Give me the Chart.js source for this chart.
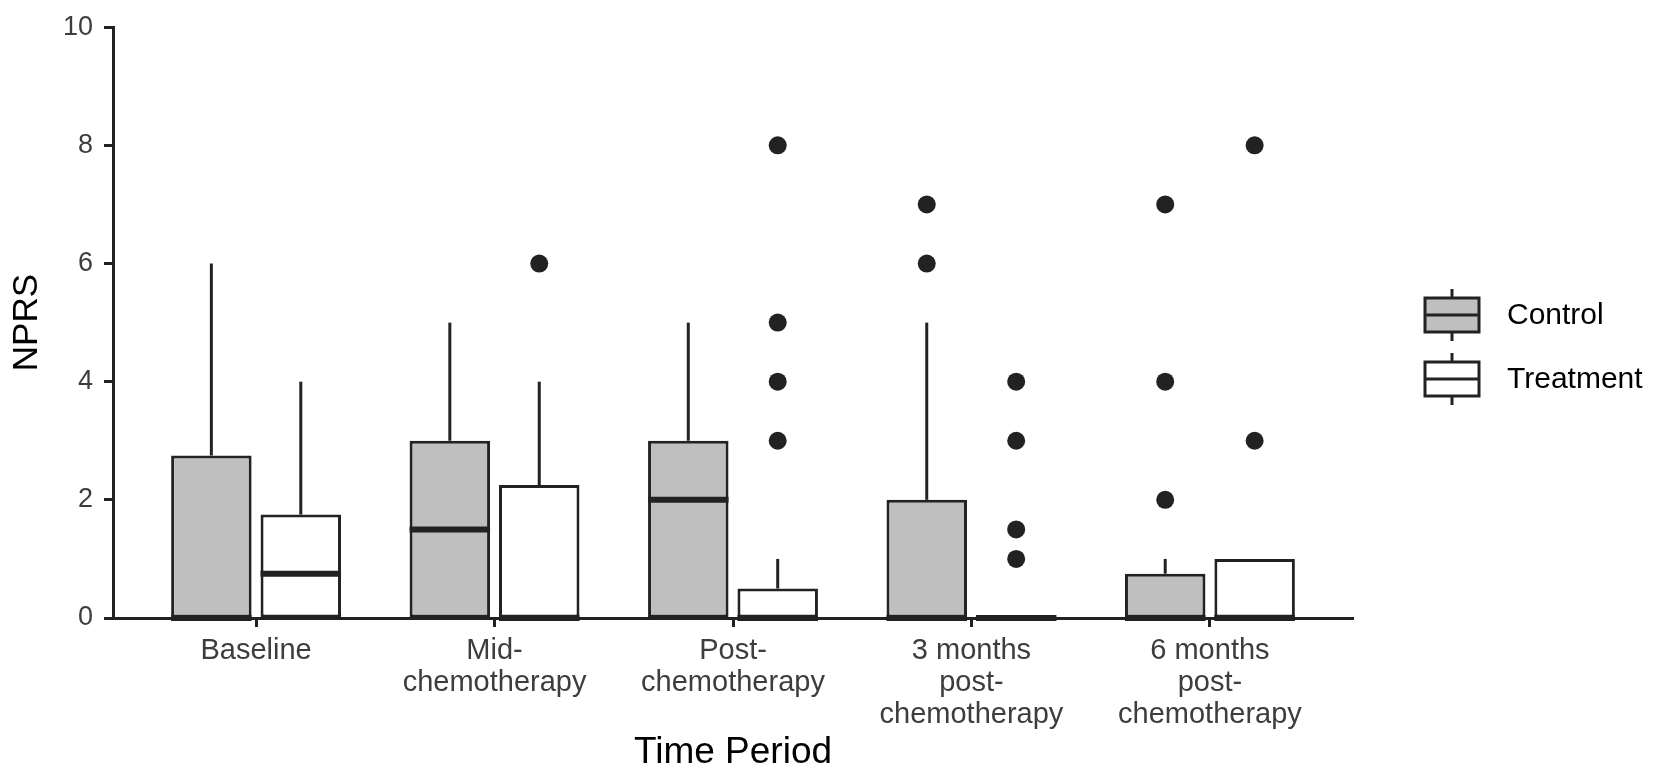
<!DOCTYPE html>
<html>
<head>
<meta charset="utf-8">
<title>NPRS by time period</title>
<script src="https://cdn.jsdelivr.net/npm/chart.js@4.4.1/dist/chart.umd.min.js"></script>
<style>
  html, body { margin: 0; padding: 0; background: #fff; }
  #wrap { width: 1659px; height: 778px; }
</style>
</head>
<body>
<div id="wrap"><canvas id="nprsChart"></canvas></div>
<script>
// categories (multi-line tick labels)
const periods = [
    ["Baseline"],
    ["Mid-", "chemotherapy"],
    ["Post-", "chemotherapy"],
    ["3 months", "post-", "chemotherapy"],
    ["6 months", "post-", "chemotherapy"]
];

// Control group box stats
const controlQ1 = [0, 0, 0, 0, 0];
const controlMedian = [0, 1.5, 2, 0, 0];
const controlQ3 = [2.75, 3, 3, 2, 0.75];
const controlMin = [0, 0, 0, 0, 0];
const controlMax = [6, 5, 5, 5, 1];
const controlOutliers = [[], [], [], [6, 7], [2, 4, 7]];

// Treatment group box stats
const treatmentQ1 = [0, 0, 0, 0, 0];
const treatmentMedian = [0.75, 0, 0, 0, 0];
const treatmentQ3 = [1.75, 2.25, 0.5, 0, 1];
const treatmentMin = [0, 0, 0, 0, 0];
const treatmentMax = [4, 4, 1, 0, 1];
const treatmentOutliers = [[], [6], [3, 4, 5, 8], [1, 1.5, 3, 4], [3, 8]];

const yTicks = [0, 2, 4, 6, 8, 10];

const INK = "#222222";
const dodge = 0.75 / 4; // centre of each box relative to the category, in category units

Chart.defaults.font.family = '"Liberation Sans", Arial, sans-serif';

function boxData(q1, q3) {
    return periods.map((p, i) => ({ x: i, y: [q1[i], q3[i]] }));
}

function outlierData(groups, shift) {
    return groups.flatMap((vals, i) => vals.map(v => ({ x: i + shift, y: v })));
}

// whiskers + medians, placed on the bars that Chart.js laid out
const boxExtras = {
    id: "boxExtras",
    afterDatasetsDraw(chart) {
        const ctx = chart.ctx;
        const y = chart.scales.y;
        chart.data.datasets.forEach((ds, di) => {
            if (ds.type !== "bar") return;
            const meta = chart.getDatasetMeta(di);
            meta.data.forEach((bar, j) => {
                const { x, width } = bar.getProps(["x", "width"], true);
                ctx.save();
                ctx.strokeStyle = INK;
                ctx.lineCap = "butt";
                // whiskers
                ctx.lineWidth = 3;
                ctx.beginPath();
                ctx.moveTo(x, y.getPixelForValue(ds.q3[j]));
                ctx.lineTo(x, y.getPixelForValue(ds.max[j]));
                ctx.moveTo(x, y.getPixelForValue(ds.q1[j]));
                ctx.lineTo(x, y.getPixelForValue(ds.min[j]));
                ctx.stroke();
                // median
                ctx.lineWidth = 6;
                ctx.beginPath();
                const my = y.getPixelForValue(ds.median[j]);
                ctx.moveTo(x - width / 2, my);
                ctx.lineTo(x + width / 2, my);
                ctx.stroke();
                ctx.restore();
            });
        });
    }
};

// ggplot-style legend with box glyphs
const boxLegend = {
    id: "boxLegend",
    afterDraw(chart) {
        const ctx = chart.ctx;
        const left = 1425, w = 54, half = 17, whisk = 26;
        let cy = 315;
        chart.data.datasets.forEach(ds => {
            if (ds.type !== "bar") return;
            ctx.save();
            ctx.strokeStyle = INK;
            ctx.lineWidth = 3;
            ctx.beginPath();
            ctx.moveTo(left + w / 2, cy - whisk);
            ctx.lineTo(left + w / 2, cy + whisk);
            ctx.stroke();
            ctx.fillStyle = ds.backgroundColor;
            ctx.fillRect(left, cy - half, w, half * 2);
            ctx.strokeRect(left, cy - half, w, half * 2);
            ctx.beginPath();
            ctx.moveTo(left, cy);
            ctx.lineTo(left + w, cy);
            ctx.stroke();
            ctx.fillStyle = "#000";
            ctx.font = '30px "Liberation Sans", Arial, sans-serif';
            ctx.textBaseline = "middle";
            ctx.textAlign = "left";
            ctx.fillText(ds.label, 1507, cy + 1);
            ctx.restore();
            cy += 64;
        });
    }
};

const ctx = document.getElementById("nprsChart").getContext("2d");

const chart = new Chart(ctx, {
    type: "bar",
    data: {
        datasets: [
            {
                type: "scatter",
                label: "Control outliers",
                data: outlierData(controlOutliers, -dodge),
                pointRadius: 9,
                pointBackgroundColor: INK,
                pointBorderWidth: 0
            },
            {
                type: "scatter",
                label: "Treatment outliers",
                data: outlierData(treatmentOutliers, dodge),
                pointRadius: 9,
                pointBackgroundColor: INK,
                pointBorderWidth: 0
            },
            {
                type: "bar",
                label: "Control",
                data: boxData(controlQ1, controlQ3),
                q1: controlQ1, q3: controlQ3, median: controlMedian, min: controlMin, max: controlMax,
                backgroundColor: "#bfbfbf",
                borderColor: INK,
                borderWidth: 3,
                borderSkipped: false,
                categoryPercentage: 0.75,
                barPercentage: 0.9
            },
            {
                type: "bar",
                label: "Treatment",
                data: boxData(treatmentQ1, treatmentQ3),
                q1: treatmentQ1, q3: treatmentQ3, median: treatmentMedian, min: treatmentMin, max: treatmentMax,
                backgroundColor: "#ffffff",
                borderColor: INK,
                borderWidth: 3,
                borderSkipped: false,
                categoryPercentage: 0.75,
                barPercentage: 0.9
            }
        ]
    },
    options: {
        responsive: true,
        maintainAspectRatio: false,
        animation: false,
        layout: { padding: { left: 0, right: 306, top: 22, bottom: 0 } },
        plugins: {
            legend: { display: false },
            tooltip: { enabled: false }
        },
        scales: {
            x: {
                type: "linear",
                min: -0.6,
                max: 4.6,
                offset: false,
                afterBuildTicks: s => { s.ticks = periods.map((p, i) => ({ value: i })); },
                afterFit: s => { s.height = 160; },
                ticks: {
                    callback: v => periods[v],
                    color: "#3d3d3d",
                    font: { size: 29, lineHeight: 1.1 },
                    padding: 8,
                    maxRotation: 0,
                    autoSkip: false
                },
                grid: { display: true, offset: false, drawOnChartArea: false, tickLength: 9, tickWidth: 3, tickColor: INK },
                border: { display: true, color: INK, width: 3 },
                title: {
                    display: true,
                    text: "Time Period",
                    color: "#000",
                    font: { size: 37 },
                    padding: { top: 0, bottom: 3 }
                }
            },
            y: {
                min: 0,
                max: 10,
                afterBuildTicks: s => { s.ticks = yTicks.map(v => ({ value: v })); },
                afterFit: s => { s.width = 113; },
                ticks: {
                    color: "#3d3d3d",
                    font: { size: 27 },
                    padding: 11
                },
                grid: { display: true, drawOnChartArea: false, tickLength: 9, tickWidth: 3, tickColor: INK },
                border: { display: true, color: INK, width: 3 },
                title: {
                    display: true,
                    text: "NPRS",
                    color: "#000",
                    font: { size: 35 },
                    padding: { top: 6, bottom: 0 }
                }
            }
        }
    },
    plugins: [boxExtras, boxLegend]
});
</script>
</body>
</html>
